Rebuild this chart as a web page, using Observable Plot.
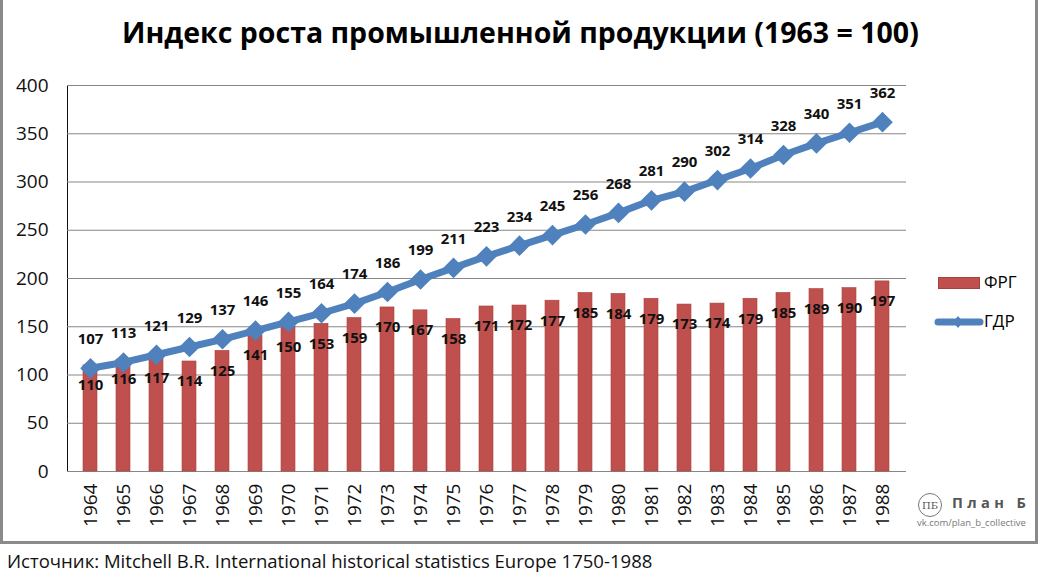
<!DOCTYPE html>
<html>
<head>
<meta charset="utf-8">
<script src="https://cdn.jsdelivr.net/npm/d3@7"></script>
<script src="https://cdn.jsdelivr.net/npm/@observablehq/plot@0.6"></script>
<style>
  html, body { margin: 0; padding: 0; background: #fff; }
  body { width: 1042px; height: 580px; position: relative; overflow: hidden; font-family: "Open Sans", sans-serif; }
  #frame { position: absolute; left: 0; top: 0; width: 1038px; height: 544px; box-sizing: border-box;
           border-left: 3px solid #8a8a8a; border-right: 3px solid #8a8a8a; border-bottom: 3px solid #8a8a8a; }
  #chart { position: absolute; left: 0; top: 0; }
  #title { position: absolute; left: 122px; top: 18px; font-weight: 700; font-size: 27px; color: #000; white-space: nowrap; line-height: 1; }
  #caption { position: absolute; left: 7px; top: 552px; font-size: 17px; color: #111; white-space: nowrap; line-height: 1; }
  .leg { position: absolute; font-size: 17px; color: #000; line-height: 1; white-space: nowrap; }
  #logo { position: absolute; left: 917px; top: 492px; }
  #logoname { position: absolute; left: 952px; top: 495px; font-weight: 700; font-size: 16px; color: #555; letter-spacing: 0.3em; white-space: nowrap; line-height: 1; }
  #logourl { position: absolute; left: 917px; top: 518px; font-size: 11.5px; color: #777; white-space: nowrap; line-height: 1; }
</style>
</head>
<body>
<div id="frame"></div>
<div id="chart"></div>
<div id="title">Индекс роста промышленной продукции (1963 = 100)</div>
<div id="caption">Источник: Mitchell B.R. International historical statistics Europe 1750-1988</div>
<div id="legend"></div>
<svg id="logo" width="26" height="26"><circle cx="13" cy="13" r="11.5" fill="none" stroke="#777" stroke-width="1"/><text x="13" y="17" text-anchor="middle" font-family="DejaVu Serif, serif" font-size="10" fill="#555">ПБ</text></svg>
<div id="logoname"><span id="logotext">План Б</span></div>
<div id="logourl">vk.com/plan_b_collective</div>
<script>
const years = ["1964","1965","1966","1967","1968","1969","1970","1971","1972","1973","1974","1975","1976","1977","1978","1979","1980","1981","1982","1983","1984","1985","1986","1987","1988"];
const frg = [110,116,117,114,125,141,150,153,159,170,167,158,171,172,177,185,184,179,173,174,179,185,189,190,197];
const gdr = [107,113,121,129,137,146,155,164,174,186,199,211,223,234,245,256,268,281,290,302,314,328,340,351,362];
const yTicks = [0,50,100,150,200,250,300,350,400];
const seriesNames = ["ФРГ","ГДР"];
const colors = ["#C0504D","#4F81BD"];

const data = years.map((y, i) => ({year: y, frg: frg[i], gdr: gdr[i]}));

const chart = Plot.plot({
  width: 1042,
  height: 545,
  marginLeft: 67,
  marginRight: 136,
  marginTop: 85,
  marginBottom: 74,
  style: {fontFamily: "Open Sans, sans-serif", fontSize: "19px", color: "#111", background: "transparent", overflow: "visible"},
  x: {domain: years, paddingInner: 0.57, paddingOuter: 0.285, label: null, tickRotate: -90, tickSize: 0, tickPadding: 12},
  y: {domain: [0, 400], ticks: yTicks, label: null, tickSize: 0, tickPadding: 19, line: true},
  marks: [
    Plot.ruleY(yTicks, {stroke: "#878787", strokeWidth: 1}),
    Plot.barY(data, {x: "year", y: "frg", fill: colors[0], stroke: "#a8403d", strokeWidth: 0.6}),
    Plot.line(data, {x: "year", y: "gdr", stroke: colors[1], strokeWidth: 7}),
    Plot.dot(data, {x: "year", y: "gdr", symbol: "diamond2", r: 9.3, fill: colors[1], stroke: "none"}),
    Plot.text(data, {x: "year", y: "frg", text: d => String(d.frg), dy: 20, fontWeight: "bold", fontSize: 15, fill: "#111"}),
    Plot.text(data, {x: "year", y: "gdr", text: d => String(d.gdr), dy: -29, fontWeight: "bold", fontSize: 15, fill: "#111"})
  ]
});
document.getElementById("chart").appendChild(chart);
d3.select(chart).selectAll('[aria-label="y-axis line"] line, [aria-label="y-axis line"] path, [aria-label="y-axis"] path.domain').attr("stroke", "#878787");

// legend
const leg = document.getElementById("legend");
leg.innerHTML = `
  <div style="position:absolute;left:938px;top:277px;width:42px;height:12px;background:${colors[0]};box-sizing:border-box;border:1px solid #a8403d"></div>
  <div class="leg" style="left:984px;top:273px">${seriesNames[0]}</div>
  <svg style="position:absolute;left:933px;top:312px" width="52" height="20">
    <line x1="5" y1="10" x2="47" y2="10" stroke="${colors[1]}" stroke-width="7" stroke-linecap="round"/>
    <path d="M25,4 L30,10 L25,16 L20,10 Z" fill="${colors[1]}"/>
  </svg>
  <div class="leg" style="left:984px;top:312px">${seriesNames[1]}</div>`;

function fit(id, w) {
  const el = document.getElementById(id);
  const fs = parseFloat(getComputedStyle(el).fontSize);
  const cw = el.getBoundingClientRect().width;
  el.style.fontSize = (fs * w / cw) + "px";
}
fit("title", 797);
fit("caption", 646);
fit("logourl", 109);
// logo name: fit visible glyph span (excluding trailing letter-spacing)
(function(){
  const el = document.getElementById("logoname");
  const sp = document.getElementById("logotext");
  const fs = parseFloat(getComputedStyle(el).fontSize);
  const ls = parseFloat(getComputedStyle(el).letterSpacing) || 0;
  const cw = sp.getBoundingClientRect().width - ls;
  el.style.fontSize = (fs * 74 / cw) + "px";
})();
</script>
</body>
</html>
